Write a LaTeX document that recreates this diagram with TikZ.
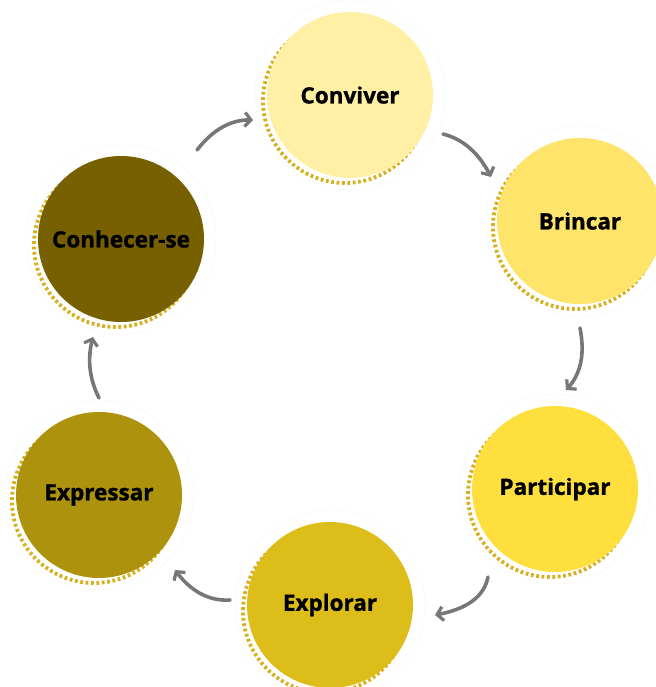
\documentclass[tikz,border=0pt]{standalone}
\usepackage{fontspec}
\setmainfont{Open Sans}[BoldFeatures={FakeBold=1.2}]
\usetikzlibrary{arrows.meta,bending}
\definecolor{cConviver}{HTML}{FFF0A6}
\definecolor{cBrincar}{HTML}{FFE46B}
\definecolor{cParticipar}{HTML}{FFDF3D}
\definecolor{cExplorar}{HTML}{DCBD1A}
\definecolor{cExpressar}{HTML}{AD920E}
\definecolor{cConhecer}{HTML}{776000}
\definecolor{cDash}{HTML}{D6B020}
\definecolor{cArrow}{HTML}{777777}
\tikzset{
  x=1bp, y=-1bp,
  stage/.style={circle, minimum size=166bp, inner sep=0pt, font=\bfseries\fontsize{22.5bp}{26bp}\selectfont, text=black},
  shadowring/.style={draw=cDash, line width=3.8bp, dash pattern=on 2.8bp off 2.6bp},
  haloring/.style={draw=black!3, line width=0.5bp},
  cyclearrow/.style={draw=cArrow, line width=3.6bp, line cap=round, -{Straight Barb[length=6bp,width=14bp,line width=3.2bp,flex]}}
}
\newcommand{\stagecircle}[2]{%
  \draw[haloring] (#1,#2) circle[radius=95bp];
  \draw[shadowring] (#1-5,#2+6) circle[radius=82bp];
}
\begin{document}
\begin{tikzpicture}
\useasboundingbox (0,0) rectangle (656,687);
\stagecircle{350}{95}
\stagecircle{580}{221}
\stagecircle{555}{489}
\stagecircle{330}{605}
\stagecircle{99}{495}
\stagecircle{121}{239}
\node[stage, fill=cConviver] (conv) at (350,95) {Conviver};
\node[stage, fill=cBrincar] (brin) at (580,221) {Brincar};
\node[stage, fill=cParticipar] (part) at (555,489) {Participar};
\node[stage, fill=cExplorar] (expl) at (330,605) {Explorar};
\node[stage, fill=cExpressar] (expr) at (99,495) {Expressar};
\node[stage, fill=cConhecer] (conh) at (121,239) {Conhecer-se};
% arrow end points
\coordinate (a1s) at (197,150); \coordinate (a1e) at (253,120);
\coordinate (a2s) at (443,134); \coordinate (a2e) at (491,177);
\coordinate (a3s) at (580,328); \coordinate (a3e) at (566,390);
\coordinate (a4s) at (488,577); \coordinate (a4e) at (435,615);
\coordinate (a5s) at (230,600); \coordinate (a5e) at (175,570);
\coordinate (a6s) at (99,398);  \coordinate (a6e) at (93,337);
\draw[cyclearrow] (a1s) .. controls (213.7,128.7) and (232.3,118.7) .. (a1e);
\draw[cyclearrow] (a2s) .. controls (463.7,139.3) and (479.7,153.7) .. (a2e);
\draw[cyclearrow] (a3s) .. controls (585.3,354.7) and (580.7,375.3) .. (a3e);
\draw[cyclearrow] (a4s) .. controls (484,597) and (466.3,609.7) .. (a4e);
\draw[cyclearrow] (a5s) .. controls (208.7,601.3) and (190.3,591.3) .. (a5e);
\draw[cyclearrow] (a6s) .. controls (89,378) and (87,357.7) .. (a6e);
\end{tikzpicture}
\end{document}
